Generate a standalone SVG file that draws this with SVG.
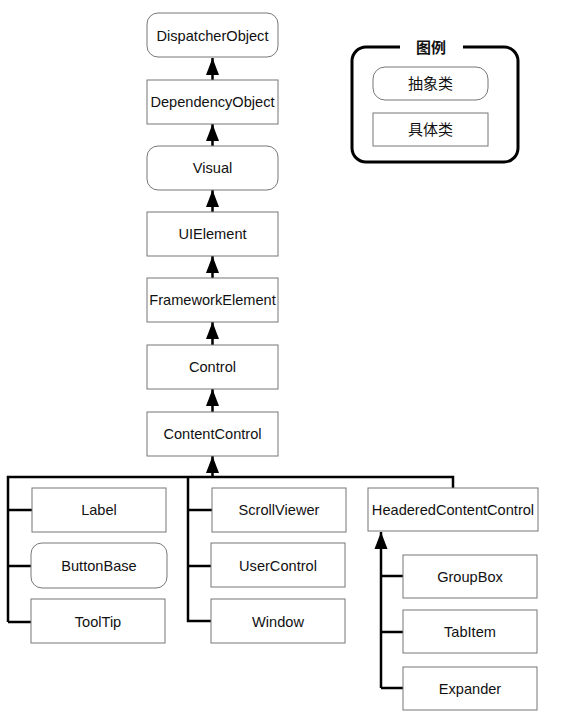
<svg xmlns="http://www.w3.org/2000/svg" width="566" height="718" viewBox="0 0 566 718">
<style>
.n{fill:#fff;stroke:#777;stroke-width:1}
.t{font-family:"Liberation Sans",Arial,sans-serif;font-size:14.6px;fill:#111;text-anchor:middle}
.c{fill:none;stroke:#000;stroke-width:2.5}
.cjk{font-family:"Noto Sans CJK SC",sans-serif;font-size:15px;fill:#111;text-anchor:middle}
</style>
<defs>
<marker id="a" markerUnits="userSpaceOnUse" markerWidth="18" markerHeight="14" viewBox="0 0 18 14" refX="17" refY="7" orient="auto">
<path d="M0,0.5 L17,7 L0,13.5 Z" fill="#000"/>
</marker>
</defs>
<rect width="566" height="718" fill="#fff"/>
<g id="connectors">
<line class="c" x1="212.5" y1="80" x2="212.5" y2="58" marker-end="url(#a)"/>
<line class="c" x1="212.5" y1="146" x2="212.5" y2="124" marker-end="url(#a)"/>
<line class="c" x1="212.5" y1="212" x2="212.5" y2="190" marker-end="url(#a)"/>
<line class="c" x1="212.5" y1="278" x2="212.5" y2="256" marker-end="url(#a)"/>
<line class="c" x1="212.5" y1="345" x2="212.5" y2="322" marker-end="url(#a)"/>
<line class="c" x1="212.5" y1="412" x2="212.5" y2="389" marker-end="url(#a)"/>
<line class="c" x1="212.5" y1="477" x2="212.5" y2="456" marker-end="url(#a)"/>
<path class="c" d="M8,622 V477 H453 V488"/>
<path class="c" d="M8,510 H32 M8,566 H31 M8,622 H31"/>
<path class="c" d="M188,477 V621 H211 M188,510 H212 M188,566 H211"/>
<line class="c" x1="381" y1="688" x2="381" y2="532" marker-end="url(#a)"/>
<path class="c" d="M381,688 H403 M381,576 H403 M381,632 H403"/>
</g>
<g id="DispatcherObject"><rect class="n" x="147" y="13" width="131" height="44" rx="11"/><text class="t" x="212.5" y="41">DispatcherObject</text></g>
<g id="DependencyObject"><rect class="n" x="147" y="80" width="131" height="44"/><text class="t" x="212.5" y="107">DependencyObject</text></g>
<g id="Visual"><rect class="n" x="147" y="146" width="131" height="44" rx="11"/><text class="t" x="212.5" y="173">Visual</text></g>
<g id="UIElement"><rect class="n" x="147" y="212" width="131" height="44"/><text class="t" x="212.5" y="239">UIElement</text></g>
<g id="FrameworkElement"><rect class="n" x="147" y="278" width="131" height="44"/><text class="t" x="212.5" y="305">FrameworkElement</text></g>
<g id="Control"><rect class="n" x="147" y="345" width="131" height="44"/><text class="t" x="212.5" y="372">Control</text></g>
<g id="ContentControl"><rect class="n" x="147" y="412" width="131" height="44"/><text class="t" x="212.5" y="439">ContentControl</text></g>
<g id="Label"><rect class="n" x="32" y="488" width="134" height="44"/><text class="t" x="99" y="515">Label</text></g>
<g id="ButtonBase"><rect class="n" x="31" y="543" width="136" height="45" rx="11"/><text class="t" x="99" y="571">ButtonBase</text></g>
<g id="ToolTip"><rect class="n" x="31" y="599" width="134" height="44"/><text class="t" x="98" y="627">ToolTip</text></g>
<g id="ScrollViewer"><rect class="n" x="212" y="488" width="134" height="44"/><text class="t" x="279" y="515">ScrollViewer</text></g>
<g id="UserControl"><rect class="n" x="211" y="543" width="134" height="44"/><text class="t" x="278" y="571">UserControl</text></g>
<g id="Window"><rect class="n" x="211" y="599" width="134" height="44"/><text class="t" x="278" y="627">Window</text></g>
<g id="HeaderedContentControl"><rect class="n" x="368" y="488" width="170" height="43"/><text class="t" x="453" y="515">HeaderedContentControl</text></g>
<g id="GroupBox"><rect class="n" x="403" y="555" width="134" height="43"/><text class="t" x="470" y="582">GroupBox</text></g>
<g id="TabItem"><rect class="n" x="403" y="610" width="134" height="43"/><text class="t" x="470" y="637">TabItem</text></g>
<g id="Expander"><rect class="n" x="403" y="667" width="134" height="43"/><text class="t" x="470" y="694">Expander</text></g>
<g id="legend">
<path d="M400,47 H366 A14,14 0 0 0 352,61 V148 A14,14 0 0 0 366,162 H504 A14,14 0 0 0 518,148 V61 A14,14 0 0 0 504,47 H463" fill="none" stroke="#000" stroke-width="3"/>
<text class="cjk" x="431" y="53" font-weight="bold">图例</text>
<rect class="n" x="373" y="67" width="115" height="33" rx="12"/>
<text class="cjk" x="430.5" y="89">抽象类</text>
<rect class="n" x="373" y="113" width="115" height="33"/>
<text class="cjk" x="430.5" y="135">具体类</text>
</g>
</svg>
